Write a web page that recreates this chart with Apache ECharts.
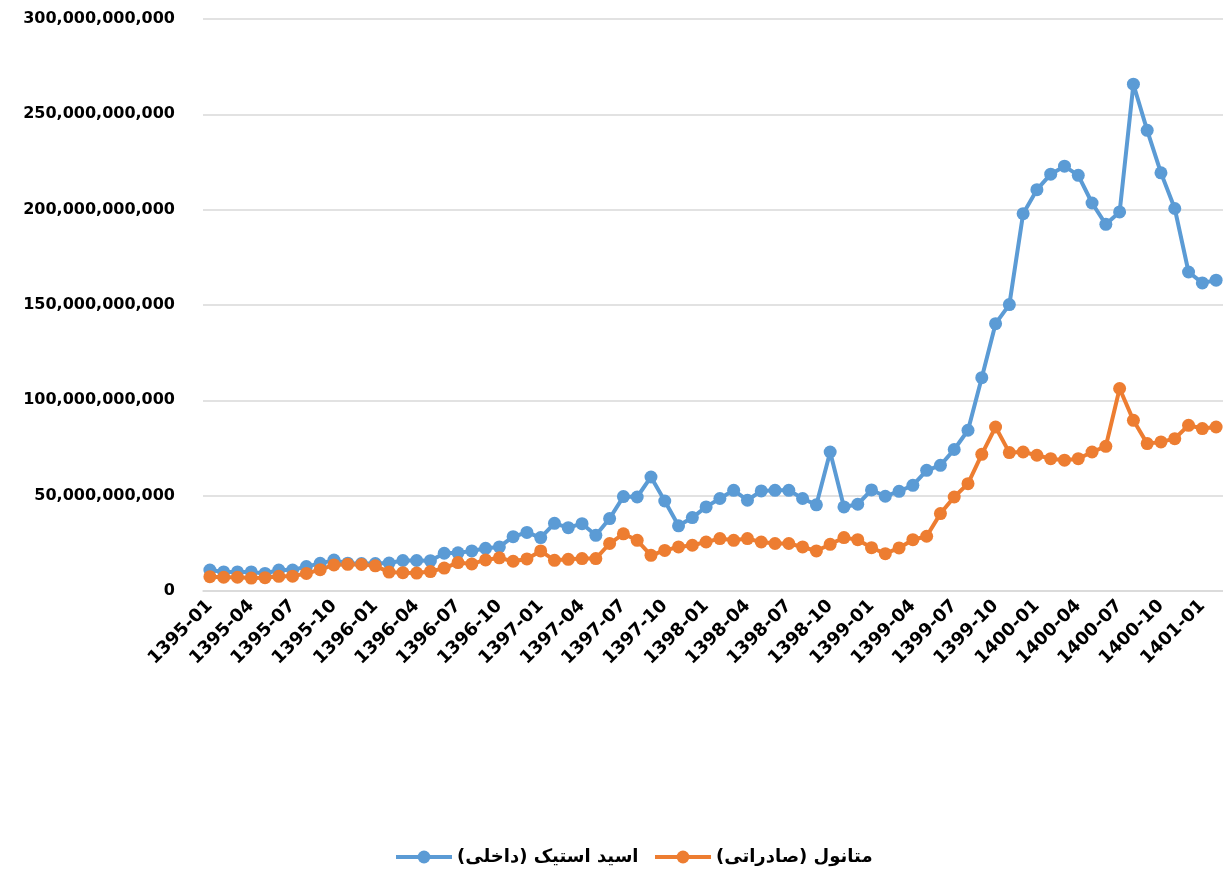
<!DOCTYPE html>
<html>
<head>
<meta charset="utf-8">
<script src="https://cdn.jsdelivr.net/npm/echarts@6/dist/echarts.min.js"></script>
<style>
html,body{margin:0;padding:0;background:#fff;}
#chart{width:1223px;height:875px;}
</style>
</head>
<body>
<div id="chart"></div>
<script>
// Categories: monthly, 1395-01 .. 1401-02
const years = [1395, 1396, 1397, 1398, 1399, 1400, 1401];
const categories = [];
for (const y of years) {
  for (let m = 1; m <= 12; m++) {
    if (y === 1401 && m > 2) break;
    categories.push(y + '-' + String(m).padStart(2, '0'));
  }
}

// Values in billions
const aceticAcidDomestic = [
  11.0, 10.0, 10.0, 10.0, 9.2, 11.0, 11.0, 12.8, 14.5, 16.2, 14.6, 14.4,
  14.4, 14.7, 16.0, 16.0, 15.9, 19.8, 20.0, 21.0, 22.4, 23.1, 28.5, 30.7,
  28.0, 35.5, 33.2, 35.3, 29.2, 38.0, 49.5, 49.3, 59.8, 47.2, 34.2, 38.5,
  44.1, 48.5, 52.8, 47.6, 52.5, 52.8, 52.8, 48.5, 45.2, 72.9, 44.1, 45.5,
  53.0, 49.7, 52.3, 55.4, 63.3, 65.9, 74.2, 84.3, 111.9, 140.2, 150.2, 197.9,
  210.5, 218.6, 222.8, 218.0, 203.5, 192.3, 198.8, 265.8, 241.6, 219.3, 200.6, 167.3,
  161.6, 163.0
];
const methanolExport = [
  7.5, 7.2, 7.2, 6.8, 7.0, 7.7, 7.8, 9.2, 11.2, 13.7, 14.0, 13.9,
  13.2, 9.9, 9.6, 9.4, 10.2, 12.0, 14.9, 14.2, 16.3, 17.4, 15.6, 16.8,
  21.0, 16.1, 16.6, 17.0, 17.0, 24.9, 30.0, 26.6, 18.7, 21.3, 23.1, 24.0,
  25.7, 27.5, 26.6, 27.5, 25.7, 24.9, 24.9, 23.1, 21.0, 24.5, 28.0, 26.9,
  22.7, 19.6, 22.6, 26.9, 28.7, 40.6, 49.3, 56.3, 71.7, 86.0, 72.6, 72.9,
  71.2, 69.4, 68.6, 69.4, 72.9, 75.9, 106.2, 89.5, 77.3, 78.2, 79.9, 86.9,
  85.2, 86.0
];
const seriesNames = ['اسید استیک (داخلی)', 'متانول (صادراتی)'];
const yTicks = { min: 0, max: 300e9, interval: 50e9 };

const BILLION = 1e9;
const font = '"DejaVu Sans", sans-serif';

const legendBase = {
  bottom: 4,
  itemWidth: 56,
  itemHeight: 16,
  itemGap: 0,
  lineStyle: { width: 4 },
  textStyle: { fontFamily: font, fontWeight: 'bold', fontSize: 18, color: '#000' }
};

const chart = echarts.init(document.getElementById('chart'), null, { renderer: 'canvas' });
chart.setOption({
  animation: false,
  backgroundColor: '#ffffff',
  grid: { left: 203, right: 0, top: 19, bottom: 284, containLabel: false },
  legend: [
    Object.assign({}, legendBase, { left: 389, data: [seriesNames[0]] }),
    Object.assign({}, legendBase, { left: 648, data: [seriesNames[1]] })
  ],
  xAxis: {
    type: 'category',
    data: categories,
    boundaryGap: true,
    axisLine: { show: true, lineStyle: { color: '#D9D9D9', width: 1.5 } },
    axisTick: { show: false },
    axisLabel: {
      interval: 2,
      rotate: 45,
      margin: 12,
      fontFamily: font,
      fontWeight: 'bold',
      fontSize: 18,
      color: '#000'
    }
  },
  yAxis: {
    type: 'value',
    min: yTicks.min,
    max: yTicks.max,
    interval: yTicks.interval,
    axisLine: { show: false },
    axisTick: { show: false },
    splitLine: { lineStyle: { color: '#D9D9D9', width: 1.5 } },
    axisLabel: {
      margin: 28,
      fontFamily: font,
      fontWeight: 'bold',
      fontSize: 16,
      color: '#000',
      formatter: v => Number(v).toLocaleString('en-US')
    }
  },
  series: [
    {
      name: seriesNames[0],
      type: 'line',
      data: aceticAcidDomestic.map(v => v * BILLION),
      symbol: 'circle',
      symbolSize: 13,
      showAllSymbol: true,
      lineStyle: { color: '#5B9BD5', width: 4 },
      itemStyle: { color: '#5B9BD5' }
    },
    {
      name: seriesNames[1],
      type: 'line',
      data: methanolExport.map(v => v * BILLION),
      symbol: 'circle',
      symbolSize: 13,
      showAllSymbol: true,
      lineStyle: { color: '#ED7D31', width: 4 },
      itemStyle: { color: '#ED7D31' }
    }
  ]
});
</script>
</body>
</html>
